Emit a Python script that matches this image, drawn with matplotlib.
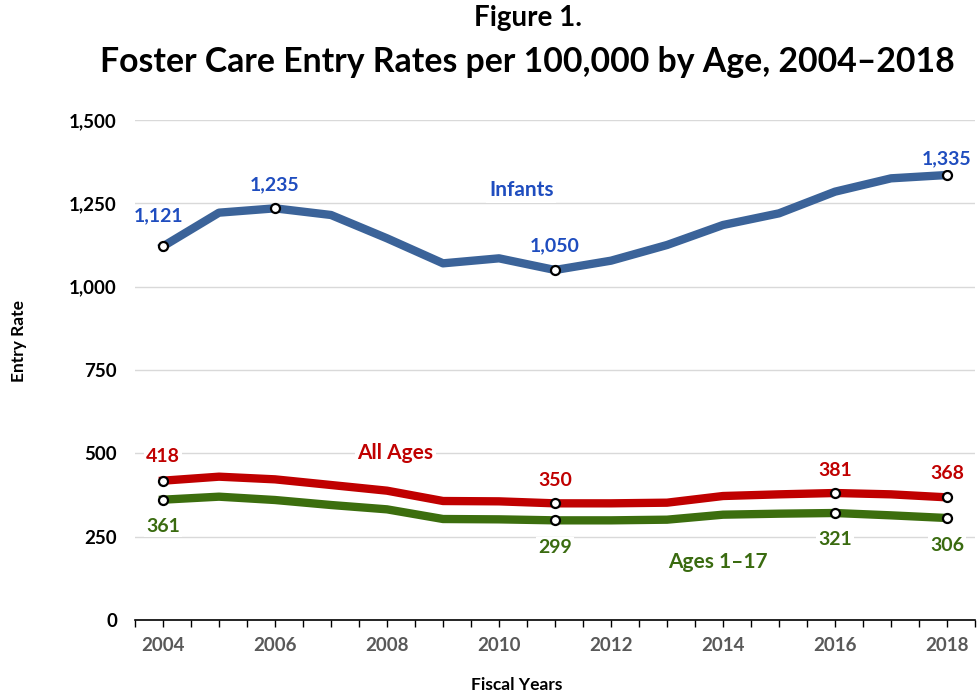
import matplotlib
matplotlib.use("Agg")
import matplotlib.pyplot as plt
from matplotlib.ticker import FuncFormatter, MultipleLocator

plt.rcParams["font.family"] = ["Lato", "DejaVu Sans"]
plt.rcParams["font.weight"] = "bold"

years = list(range(2004, 2019))
infants = [1121, 1222, 1235, 1215, 1145, 1070, 1085, 1050, 1078, 1125, 1185, 1220, 1285, 1325, 1335]
all_ages = [418, 430, 422, 405, 388, 357, 356, 350, 350, 352, 372, 377, 381, 377, 368]
ages_1_17 = [361, 370, 360, 345, 332, 303, 302, 299, 299, 301, 316, 319, 321, 314, 306]

# which points get a marker + value label, and label offset (px, + is down)
infant_marks = {2004: (-4, -31), 2006: (0, -24), 2011: (0, -24), 2018: (0, -16)}
all_marks = {2004: (0, -24), 2011: (0, -23), 2016: (0, -23), 2018: (0, -24)}
young_marks = {2004: (0, 27), 2011: (0, 27), 2016: (0, 26), 2018: (0, 27)}

series = [
    ("Infants", infants, "#3B6399", "#1F4DBF", infant_marks, (2010.4, 1290)),
    ("All Ages", all_ages, "#C00000", "#C00000", all_marks, (2008.15, 502)),
    ("Ages 1\u201317", ages_1_17, "#3C6E0E", "#3A6B10", young_marks, (2013.9, 175)),
]

fig = plt.figure(figsize=(9.77, 6.94), dpi=100)
ax = fig.add_axes([0.1382, 0.1066, 0.998 - 0.1382, 0.8271 - 0.1066])

for name, vals, lc, tc, marks, lab in series:
    ax.plot(years, vals, color=lc, lw=6, solid_joinstyle="round", zorder=3)
    mx = [y for y in years if y in marks]
    my = [vals[years.index(y)] for y in mx]
    ax.plot(mx, my, "o", ms=6.5, mfc="white", mec="black", mew=1.6, zorder=4)
    for x, y in zip(mx, my):
        dx, dy = marks[x]
        ax.annotate(f"{y:,}", (x, y), xytext=(dx * 0.72, -dy * 0.72),
                    textcoords="offset points", ha="center", va="center",
                    fontsize=14, color=tc, fontweight="bold", zorder=5,
                    bbox=dict(facecolor="white", edgecolor="none", pad=1.5))
    ax.text(lab[0], lab[1], name, ha="center", va="center", fontsize=15,
            color=tc, fontweight="bold", zorder=5,
            bbox=dict(facecolor="white", edgecolor="none", pad=2))

ax.set_xlim(2003.5, 2018.5)
ax.set_ylim(0, 1500)
ax.set_yticks([0, 250, 500, 750, 1000, 1250, 1500])
ax.yaxis.set_major_formatter(FuncFormatter(lambda v, p: f"{int(v):,}"))
ax.set_xticks(years[::2])
ax.xaxis.set_minor_locator(MultipleLocator(0.5))
ax.grid(axis="y", color="#D9D9D9", lw=1)
ax.set_axisbelow(True)
for s in ["top", "right", "left"]:
    ax.spines[s].set_visible(False)
ax.spines["bottom"].set_linewidth(1.2)
ax.tick_params(axis="y", length=0, pad=13, labelsize=13.5, labelcolor="black")
ax.tick_params(axis="x", which="both", length=5, width=1, direction="out")
ax.tick_params(axis="x", which="major", pad=7, labelsize=13.5, labelcolor="#595959")
for t in ax.get_xticklabels() + ax.get_yticklabels():
    t.set_fontweight("bold")

fig.text(19 / 977, 1 - 341 / 694, "Entry Rate", rotation=90, ha="center", va="center",
         fontsize=12.5, fontweight="bold")
fig.text(517 / 977, 1 - 685 / 694, "Fiscal Years", ha="center", va="center",
         fontsize=12.5, fontweight="bold")
fig.text(528 / 977, 1 - 18 / 694, "Figure 1.", ha="center", va="center",
         fontsize=20, fontweight="bold")
fig.text(527 / 977, 1 - 62 / 694, "Foster Care Entry Rates per 100,000 by Age, 2004\u20132018",
         ha="center", va="center", fontsize=24.3, fontweight="bold")

fig.savefig("out.png", dpi=100)
